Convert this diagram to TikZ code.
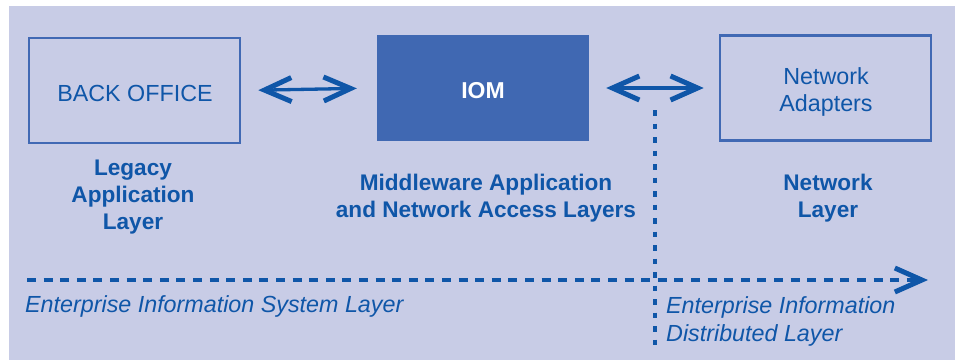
\documentclass[tikz,border=0pt]{standalone}
\usepackage{fontspec}
\setmainfont{Liberation Sans}
\usetikzlibrary{arrows.meta}
\definecolor{bgc}{HTML}{C8CCE6}
\definecolor{tblue}{HTML}{0F56A8}
\definecolor{boxc}{HTML}{4169B4}
\definecolor{iomc}{HTML}{4068B2}
\tikzset{
  layerbox/.style={draw=boxc, line width=2.6pt, minimum width=211pt, minimum height=105pt, inner sep=0pt},
  boxtext/.style={text=tblue, align=center, inner sep=0pt, font=\fontsize{23.3}{27}\selectfont},
  iombox/.style={fill=iomc, minimum width=212pt, minimum height=106pt, inner sep=0pt},
  iomtext/.style={text=white, inner sep=0pt, font=\bfseries\fontsize{23}{27}\selectfont},
  caption/.style={text=tblue, align=center, inner sep=0pt, font=\bfseries\fontsize{22.6}{26.8}\selectfont},
  itlabel/.style={text=tblue, align=left, inner sep=0pt, font=\itshape\fontsize{23.3}{28}\selectfont},
  barb/.style={Straight Barb[length=27pt,width=24pt,line width=5pt]},
  dblarrow/.style={draw=tblue, line width=3.3pt, {Straight Barb[length=27pt,width=24pt,line width=5pt]}-{Straight Barb[length=27pt,width=24pt,line width=5pt]}},
  axisarrow/.style={draw=tblue, line width=4pt, dash pattern=on 9pt off 7.6pt, -{Straight Barb[length=27pt,width=24pt,line width=5pt]}},
  divider/.style={draw=tblue, line width=3.2pt, dash pattern=on 5.5pt off 8pt}
}
\begin{document}
\begin{tikzpicture}[x=1pt,y=-1pt]
\useasboundingbox (0,0) rectangle (959,360);
\fill[white] (0,0) rectangle (959,360);
\fill[bgc] (9,6) rectangle (955,360);

\node[layerbox] (bo) at (134.5,90.5) {};
\node[boxtext] (botext) at (135,93) {BACK OFFICE};
\node[iombox] (iom) at (483,88) {};
\node[iomtext] (iomtext) at (483,90.5) {IOM};
\node[layerbox] (na) at (825.5,88) {};
\node[boxtext] (natext) at (826,92) {Network\\Adapters};

\node[caption] (legacy) at (133,197) {Legacy\\Application\\Layer};
\node[caption] (mid) at (486,198) {Middleware Application\\and Network Access Layers};
\node[caption] (net) at (828,198) {Network\\Layer};

\draw[dblarrow, shorten <=17pt, shorten >=20pt] (bo.east) -- (iom.west);
\draw[dblarrow, shorten <=17pt, shorten >=15pt] (iom.east) -- (na.west);

\coordinate (ax0) at (27,280);
\coordinate (ax1) at (928,280);
\coordinate (dv0) at (655,110);
\coordinate (dv1) at (655,345);
\draw[divider] (dv0) -- (dv1);
\draw[axisarrow] (ax0) -- (ax1);

\node[itlabel, anchor=west] (eis) at (25,306.5) {Enterprise Information System Layer};
\node[itlabel, anchor=west] (eid) at (666,321) {Enterprise Information\\Distributed Layer};
\end{tikzpicture}
\end{document}
